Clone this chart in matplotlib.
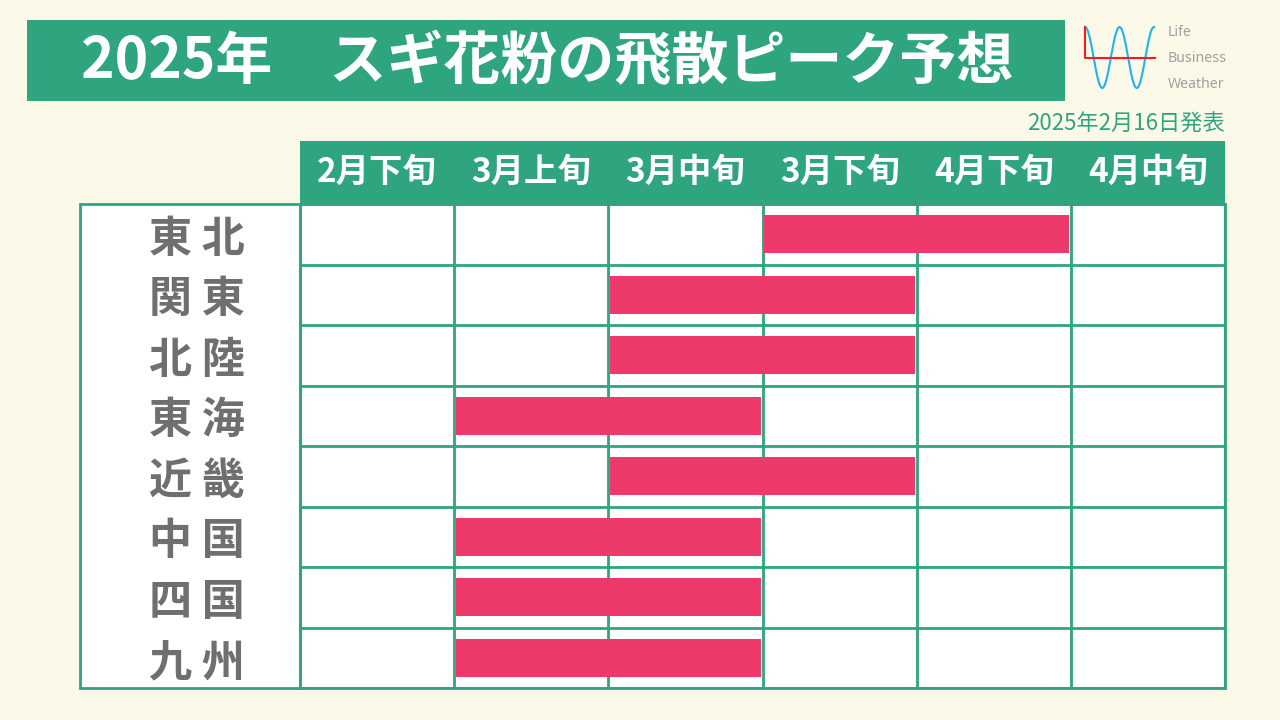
import numpy as np
import matplotlib
matplotlib.use('Agg')
from matplotlib import pyplot as plt
from matplotlib.patches import Rectangle

plt.rcParams['font.family'] = ['Noto Sans CJK JP', 'DejaVu Sans']

# data
title = '2025年　スギ花粉の飛散ピーク予想'
date_note = '2025年2月16日発表'
periods = ['2月下旬', '3月上旬', '3月中旬', '3月下旬', '4月下旬', '4月中旬']
regions = ['東 北', '関 東', '北 陸', '東 海', '近 畿', '中 国', '四 国', '九 州']
peak_start = [3, 2, 2, 1, 2, 1, 1, 1]
peak_end = [5, 4, 4, 3, 4, 3, 3, 3]

bg = '#fdf9e8'
green = '#2ea57f'
pink = '#ee3a6a'
gray = '#6f6f6f'

fig = plt.figure(figsize=(12.8, 7.2), dpi=100, facecolor=bg)

# decoration layer in pixel coords
deco = fig.add_axes([0, 0, 1, 1])
deco.set_xlim(0, 1280)
deco.set_ylim(720, 0)
deco.axis('off')
deco.add_patch(Rectangle((27, 20), 1038, 81, color=green, lw=0))
deco.text(547, 62, title, color='white', fontsize=41, fontweight='bold',
          ha='center', va='center')
deco.text(1225, 124, date_note, color=green, fontsize=16, ha='right', va='center')

# logo
xs = np.linspace(1085, 1154, 200)
deco.plot(xs, 57.5 - 30.5 * np.cos((xs - 1085) / 69 * 4 * np.pi), color='#1eb4f0', lw=1.5)
deco.plot([1085, 1085, 1155], [27, 58, 58], color='#ff1a1a', lw=1.5)
for txt, yy in zip(['Life', 'Business', 'Weather'], [32, 58, 85]):
    deco.text(1168, yy, txt, color='#a0a0a0', fontsize=10.2, family='Noto Sans',
              fontweight='light', ha='left', va='center')

# header band and label column
deco.add_patch(Rectangle((300, 141), 925, 63, color=green, lw=0))
deco.add_patch(Rectangle((80, 204), 220, 484, facecolor='white', edgecolor=green, lw=2))

# table
ax = fig.add_axes([300 / 1280, (720 - 688) / 720, 925 / 1280, 484 / 720])
ax.set_facecolor('white')
ax.set_xlim(0, len(periods))
ax.set_ylim(len(regions), 0)
for i in range(len(periods) + 1):
    ax.axvline(i, color=green, lw=2, zorder=1)
for j in range(len(regions) + 1):
    ax.axhline(j, color=green, lw=2, zorder=1)
for s in ax.spines.values():
    s.set_color(green)
    s.set_linewidth(2)

widths = [e - s - 0.02 for s, e in zip(peak_start, peak_end)]
ax.barh(np.arange(len(regions)) + 0.5, widths, left=[s + 0.01 for s in peak_start],
        height=0.63, color=pink, zorder=2)

ax.xaxis.tick_top()
ax.set_xticks(np.arange(len(periods)) + 0.5)
ax.set_xticklabels(periods, fontsize=24, fontweight='bold', color='white')
ax.set_yticks(np.arange(len(regions)) + 0.5)
ax.set_yticklabels(regions, fontsize=31, fontweight='bold', color=gray)
ax.tick_params(axis='x', length=0, pad=11)
ax.tick_params(axis='y', length=0, pad=40)

fig.savefig('out.png', dpi=100, facecolor=bg)
